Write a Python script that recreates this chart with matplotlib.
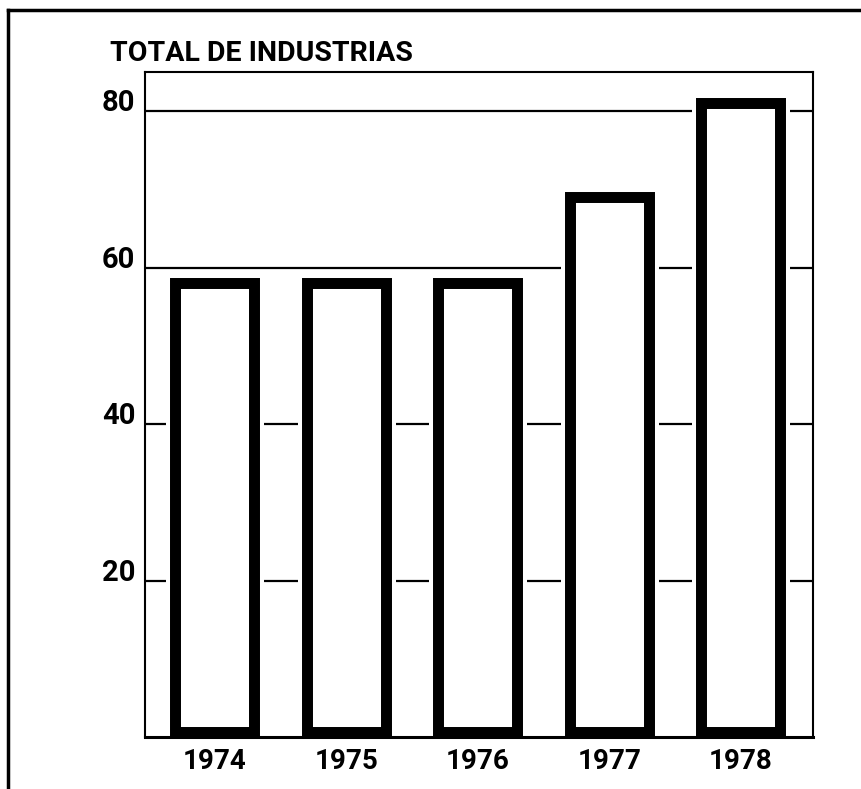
import matplotlib
matplotlib.use("Agg")
import matplotlib.pyplot as plt
from matplotlib.lines import Line2D

# ---- data ----
years = ["1974", "1975", "1976", "1977", "1978"]
industrias = [58, 58, 58, 69, 81]
y_ticks = [20, 40, 60, 80]
title = "TOTAL DE INDUSTRIAS"

plt.rcParams["font.family"] = ["Roboto", "DejaVu Sans"]

W, H = 862, 789
fig = plt.figure(figsize=(W / 100, H / 100), dpi=100)
fig.patch.set_facecolor("white")

ax_l, ax_r, ax_t, ax_b = 145, 813, 72, 737
ax = fig.add_axes([ax_l / W, 1 - ax_b / H, (ax_r - ax_l) / W, (ax_b - ax_t) / H])
ax.set_facecolor("white")

x = list(range(len(years)))
ax.set_xlim(-0.53, 4.55)
ax.set_ylim(0, 85)

for yv in y_ticks:
    ax.axhline(yv, color="black", lw=1.6, zorder=0.5)

bar_base = 0.7
heights = [v - bar_base for v in industrias]
# white halo that breaks the gridlines around each bar
ax.bar(x, heights, bottom=bar_base, width=0.6, facecolor="white",
       edgecolor="white", linewidth=13.7, zorder=0.8)
ax.bar(x, heights, bottom=bar_base, width=0.6, facecolor="white",
       edgecolor="black", linewidth=7.9, zorder=1, joinstyle="miter")

ax.set_xticks(x)
ax.set_xticklabels(years, fontsize=20, fontweight="bold")
ax.set_yticks(y_ticks)
ax.set_yticklabels([str(v) for v in y_ticks], fontsize=21, fontweight="bold")
for lab in ax.get_yticklabels():
    lab.set_verticalalignment("baseline")
ax.tick_params(axis="both", length=0)
ax.tick_params(axis="y", pad=7)
ax.tick_params(axis="x", pad=8)

for s in ["left", "top", "right"]:
    ax.spines[s].set_linewidth(1.5)
    ax.spines[s].set_zorder(3)
ax.spines["bottom"].set_linewidth(2.2)
ax.spines["bottom"].set_zorder(3)

fig.text(110 / W, 1 - 61 / H, title, fontsize=20.5, fontweight="bold",
         ha="left", va="baseline")

fig.add_artist(Line2D([8 / W, 8 / W], [0, 1 - 10 / H], transform=fig.transFigure,
                      color="black", lw=2.5))
fig.add_artist(Line2D([8 / W, 1], [1 - 10 / H, 1 - 10 / H], transform=fig.transFigure,
                      color="black", lw=2.5))

fig.savefig("out.png", dpi=100, facecolor="white")
